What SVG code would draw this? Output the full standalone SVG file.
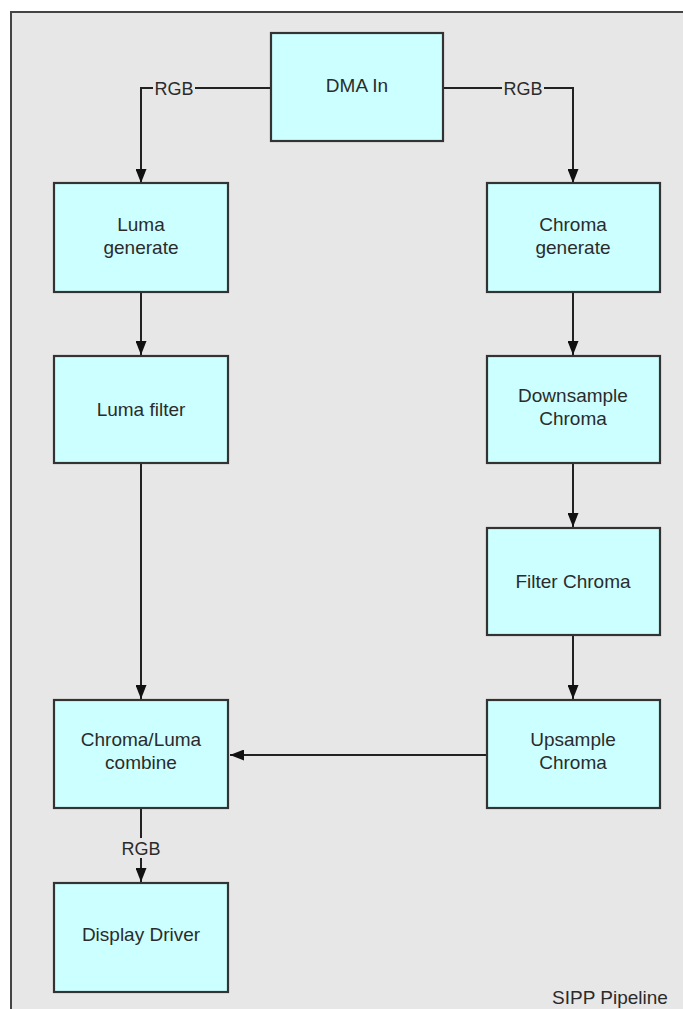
<svg xmlns="http://www.w3.org/2000/svg" width="683" height="1009" viewBox="0 0 683 1009">
  <style>
    .box { fill: #ccffff; stroke: #333333; stroke-width: 2.2; }
    .lbl { font-family: "Liberation Sans", Arial, sans-serif; font-size: 19px; fill: #2b2b2b; text-anchor: middle; }
    .tag { font-family: "Liberation Sans", Arial, sans-serif; font-size: 18px; fill: #2b2b2b; text-anchor: middle; }
    .wire { fill: none; stroke: #222222; stroke-width: 2; }
  </style>
  <defs>
    <marker id="arrow" markerWidth="14" markerHeight="11" refX="14" refY="5.5" orient="auto" markerUnits="userSpaceOnUse">
      <path d="M0,0 L14,5.5 L0,11 Z" fill="#111111"/>
    </marker>
  </defs>

  <!-- canvas and frame -->
  <rect x="0" y="0" width="683" height="1009" fill="#ffffff"/>
  <rect x="11" y="12" width="672" height="997" fill="#e7e7e7"/>
  <path d="M11,1009 V12 H683" fill="none" stroke="#444444" stroke-width="2"/>

  <!-- connectors -->
  <g id="connectors">
    <path class="wire" d="M271,88 H141 V183" marker-end="url(#arrow)"/>
    <path class="wire" d="M443,88 H573 V183" marker-end="url(#arrow)"/>
    <path class="wire" d="M141,292 V355" marker-end="url(#arrow)"/>
    <path class="wire" d="M141,463 V699" marker-end="url(#arrow)"/>
    <path class="wire" d="M573,292 V355" marker-end="url(#arrow)"/>
    <path class="wire" d="M573,463 V527" marker-end="url(#arrow)"/>
    <path class="wire" d="M573,635 V699" marker-end="url(#arrow)"/>
    <path class="wire" d="M487,755 H230" marker-end="url(#arrow)"/>
    <path class="wire" d="M141,808 V882" marker-end="url(#arrow)"/>
    <!-- RGB labels sit on the lines with a background patch -->
    <rect x="153" y="78" width="42" height="20" fill="#e7e7e7"/>
    <text class="tag" x="174" y="94.5">RGB</text>
    <rect x="502" y="78" width="42" height="20" fill="#e7e7e7"/>
    <text class="tag" x="523" y="94.5">RGB</text>
    <rect x="120" y="838" width="42" height="20" fill="#e7e7e7"/>
    <text class="tag" x="141" y="854.5">RGB</text>
  </g>

  <g id="dma-in">
    <rect class="box" x="271" y="33" width="172" height="108"/>
    <text class="lbl" x="357" y="92">DMA In</text>
  </g>
  <g id="luma-generate">
    <rect class="box" x="54" y="183" width="174" height="109"/>
    <text class="lbl" x="141" y="231">Luma</text>
    <text class="lbl" x="141" y="254">generate</text>
  </g>
  <g id="chroma-generate">
    <rect class="box" x="487" y="183" width="173" height="109"/>
    <text class="lbl" x="573" y="231">Chroma</text>
    <text class="lbl" x="573" y="254">generate</text>
  </g>
  <g id="luma-filter">
    <rect class="box" x="54" y="356" width="174" height="107"/>
    <text class="lbl" x="141" y="416">Luma filter</text>
  </g>
  <g id="downsample-chroma">
    <rect class="box" x="487" y="356" width="173" height="107"/>
    <text class="lbl" x="573" y="402">Downsample</text>
    <text class="lbl" x="573" y="425">Chroma</text>
  </g>
  <g id="filter-chroma">
    <rect class="box" x="487" y="528" width="173" height="107"/>
    <text class="lbl" x="573" y="588">Filter Chroma</text>
  </g>
  <g id="chroma-luma-combine">
    <rect class="box" x="54" y="700" width="174" height="108"/>
    <text class="lbl" x="141" y="746">Chroma/Luma</text>
    <text class="lbl" x="141" y="769">combine</text>
  </g>
  <g id="upsample-chroma">
    <rect class="box" x="487" y="700" width="173" height="108"/>
    <text class="lbl" x="573" y="746">Upsample</text>
    <text class="lbl" x="573" y="769">Chroma</text>
  </g>
  <g id="display-driver">
    <rect class="box" x="54" y="883" width="174" height="109"/>
    <text class="lbl" x="141" y="941">Display Driver</text>
  </g>

  <text class="lbl" x="610" y="1004">SIPP Pipeline</text>
</svg>
